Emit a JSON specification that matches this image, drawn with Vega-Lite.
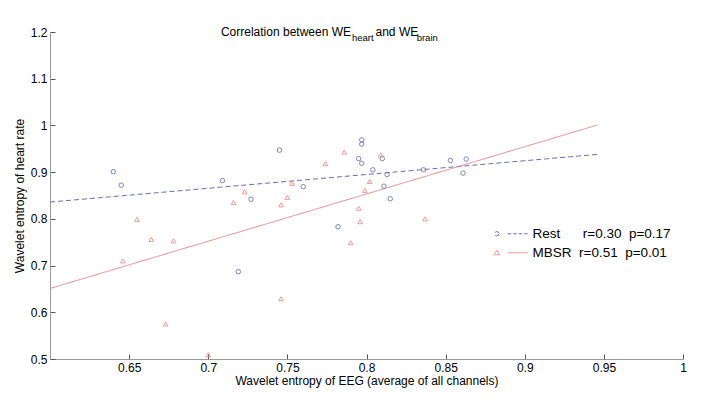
{
  "$schema": "https://vega.github.io/schema/vega-lite/v6.json",
  "width": 633,
  "height": 327,
  "autosize": {"type": "none"},
  "padding": {"left": 50, "top": 32, "right": 32, "bottom": 40},
  "background": "white",
  "config": {
    "font": "Liberation Sans",
    "view": {"stroke": null},
    "legend": {"symbolOpacity": 1},
    "axis": {
      "grid": false,
      "domainColor": "#9a9a9a",
      "tickColor": "#555555",
      "tickSize": -5,
      "labelFont": "Liberation Sans",
      "labelFontSize": 12,
      "labelColor": "#000000",
      "titleFont": "Liberation Sans",
      "titleFontSize": 12,
      "titleFontWeight": "normal",
      "titleColor": "#000000"
    }
  },
  "datasets": {
    "points": [
      {"group": "Rest", "eeg": 0.640, "hr": 0.901},
      {"group": "Rest", "eeg": 0.645, "hr": 0.872},
      {"group": "Rest", "eeg": 0.709, "hr": 0.882},
      {"group": "Rest", "eeg": 0.745, "hr": 0.947},
      {"group": "Rest", "eeg": 0.719, "hr": 0.687},
      {"group": "Rest", "eeg": 0.727, "hr": 0.842},
      {"group": "Rest", "eeg": 0.760, "hr": 0.869},
      {"group": "Rest", "eeg": 0.782, "hr": 0.783},
      {"group": "Rest", "eeg": 0.797, "hr": 0.969},
      {"group": "Rest", "eeg": 0.797, "hr": 0.960},
      {"group": "Rest", "eeg": 0.795, "hr": 0.929},
      {"group": "Rest", "eeg": 0.797, "hr": 0.919},
      {"group": "Rest", "eeg": 0.810, "hr": 0.929},
      {"group": "Rest", "eeg": 0.804, "hr": 0.905},
      {"group": "Rest", "eeg": 0.813, "hr": 0.895},
      {"group": "Rest", "eeg": 0.811, "hr": 0.870},
      {"group": "Rest", "eeg": 0.815, "hr": 0.843},
      {"group": "Rest", "eeg": 0.836, "hr": 0.905},
      {"group": "Rest", "eeg": 0.853, "hr": 0.925},
      {"group": "Rest", "eeg": 0.863, "hr": 0.928},
      {"group": "Rest", "eeg": 0.861, "hr": 0.898},
      {"group": "MBSR", "eeg": 0.646, "hr": 0.710},
      {"group": "MBSR", "eeg": 0.655, "hr": 0.799},
      {"group": "MBSR", "eeg": 0.664, "hr": 0.756},
      {"group": "MBSR", "eeg": 0.678, "hr": 0.753},
      {"group": "MBSR", "eeg": 0.673, "hr": 0.575},
      {"group": "MBSR", "eeg": 0.700, "hr": 0.509},
      {"group": "MBSR", "eeg": 0.716, "hr": 0.835},
      {"group": "MBSR", "eeg": 0.723, "hr": 0.858},
      {"group": "MBSR", "eeg": 0.746, "hr": 0.830},
      {"group": "MBSR", "eeg": 0.746, "hr": 0.629},
      {"group": "MBSR", "eeg": 0.750, "hr": 0.846},
      {"group": "MBSR", "eeg": 0.753, "hr": 0.876},
      {"group": "MBSR", "eeg": 0.774, "hr": 0.918},
      {"group": "MBSR", "eeg": 0.786, "hr": 0.943},
      {"group": "MBSR", "eeg": 0.790, "hr": 0.749},
      {"group": "MBSR", "eeg": 0.795, "hr": 0.823},
      {"group": "MBSR", "eeg": 0.796, "hr": 0.794},
      {"group": "MBSR", "eeg": 0.799, "hr": 0.861},
      {"group": "MBSR", "eeg": 0.802, "hr": 0.880},
      {"group": "MBSR", "eeg": 0.809, "hr": 0.937},
      {"group": "MBSR", "eeg": 0.837, "hr": 0.800}
    ],
    "fits": [
      {"group": "Rest", "eeg": 0.600, "hr": 0.836},
      {"group": "Rest", "eeg": 0.946, "hr": 0.938},
      {"group": "MBSR", "eeg": 0.600, "hr": 0.651},
      {"group": "MBSR", "eeg": 0.946, "hr": 1.001}
    ],
    "one": [{"k": 1}]
  },
  "layer": [
    {
      "data": {"name": "fits"},
      "mark": {"type": "line", "strokeWidth": 1},
      "encoding": {
        "x": {
          "field": "eeg",
          "type": "quantitative",
          "scale": {"domain": [0.6, 1], "nice": false, "zero": false},
          "axis": {
            "title": "Wavelet entropy of EEG (average of all channels)",
            "values": [0.65, 0.7, 0.75, 0.8, 0.85, 0.9, 0.95, 1],
            "format": "~g",
            "labelPadding": 8.5,
            "titlePadding": 2,
            "labelFlush": false
          }
        },
        "y": {
          "field": "hr",
          "type": "quantitative",
          "scale": {"domain": [0.5, 1.2], "nice": false, "zero": false},
          "axis": {
            "title": "Wavelet entropy of heart rate",
            "values": [0.5, 0.6, 0.7, 0.8, 0.9, 1, 1.1, 1.2],
            "format": "~g",
            "labelPadding": 8,
            "titlePadding": 4,
            "labelFlush": false
          }
        },
        "color": {
          "field": "group",
          "type": "nominal",
          "scale": {"domain": ["Rest", "MBSR"], "range": ["#6c6cbf", "#e68b8b"]},
          "legend": {
            "title": null,
            "orient": "none",
            "legendX": 440,
            "legendY": 195,
            "padding": 0,
            "symbolSize": 4,
            "symbolStrokeWidth": 1,
            "symbolOpacity": 1,
            "labelOffset": 29,
            "labelFontSize": 13.5,
            "labelFont": "Liberation Sans",
            "labelColor": "#000000",
            "rowPadding": 4,
            "labelExpr": "datum.value === 'Rest' ? 'Rest\u00a0\u00a0\u00a0\u00a0\u00a0\u00a0r=0.30\u00a0\u00a0p=0.17' : 'MBSR\u00a0\u00a0r=0.51\u00a0\u00a0p=0.01'"
          }
        },
        "strokeDash": {
          "field": "group",
          "type": "nominal",
          "scale": {"domain": ["Rest", "MBSR"], "range": [[5, 3], [1, 0]]},
          "legend": null
        }
      }
    },
    {
      "data": {"name": "points"},
      "transform": [{"filter": "datum.group === 'Rest'"}],
      "mark": {"type": "point", "shape": "circle", "filled": false, "strokeWidth": 1, "size": 20, "opacity": 0.85},
      "encoding": {
        "x": {"field": "eeg", "type": "quantitative"},
        "y": {"field": "hr", "type": "quantitative"},
        "color": {"field": "group", "type": "nominal"}
      }
    },
    {
      "data": {"name": "points"},
      "transform": [{"filter": "datum.group === 'MBSR'"}],
      "mark": {"type": "point", "shape": "triangle-up", "filled": false, "strokeWidth": 1, "size": 22, "opacity": 0.85},
      "encoding": {
        "x": {"field": "eeg", "type": "quantitative"},
        "y": {"field": "hr", "type": "quantitative"},
        "color": {"field": "group", "type": "nominal"}
      }
    },
    {
      "data": {"name": "fits"},
      "transform": [{"filter": "false"}],
      "mark": {"type": "point", "filled": false, "strokeWidth": 1},
      "encoding": {
        "x": {"field": "eeg", "type": "quantitative"},
        "y": {"field": "hr", "type": "quantitative"},
        "color": {"field": "group", "type": "nominal"},
        "shape": {
          "field": "group",
          "type": "nominal",
          "scale": {
            "domain": ["Rest", "MBSR"],
            "range": [
              "M2.2,0L1.56,1.56L0,2.2L-1.56,1.56L-2.2,0L-1.56,-1.56L0,-2.2L1.56,-1.56ZM11,0L14.5,0M16.5,0L20,0M22,0L25.5,0M27.5,0L31,0",
              "M0,-2.5L2.6,2L-2.6,2ZM11,0L31,0"
            ]
          }
        }
      }
    },
    {
      "data": {"name": "one"},
      "mark": {"type": "text", "align": "right", "baseline": "alphabetic", "fontSize": 12, "fill": "#000000"},
      "encoding": {
        "x": {"datum": 0.7902, "type": "quantitative"},
        "y": {"datum": 1.1914, "type": "quantitative"},
        "text": {"value": "Correlation between WE"}
      }
    },
    {
      "data": {"name": "one"},
      "mark": {"type": "text", "align": "left", "baseline": "alphabetic", "fontSize": 9.5, "fill": "#000000"},
      "encoding": {
        "x": {"datum": 0.7908, "type": "quantitative"},
        "y": {"datum": 1.1818, "type": "quantitative"},
        "text": {"value": "heart"}
      }
    },
    {
      "data": {"name": "one"},
      "mark": {"type": "text", "align": "left", "baseline": "alphabetic", "fontSize": 12, "fill": "#000000"},
      "encoding": {
        "x": {"datum": 0.8057, "type": "quantitative"},
        "y": {"datum": 1.1914, "type": "quantitative"},
        "text": {"value": "and WE"}
      }
    },
    {
      "data": {"name": "one"},
      "mark": {"type": "text", "align": "left", "baseline": "alphabetic", "fontSize": 9.5, "fill": "#000000"},
      "encoding": {
        "x": {"datum": 0.8317, "type": "quantitative"},
        "y": {"datum": 1.1818, "type": "quantitative"},
        "text": {"value": "brain"}
      }
    }
  ]
}
